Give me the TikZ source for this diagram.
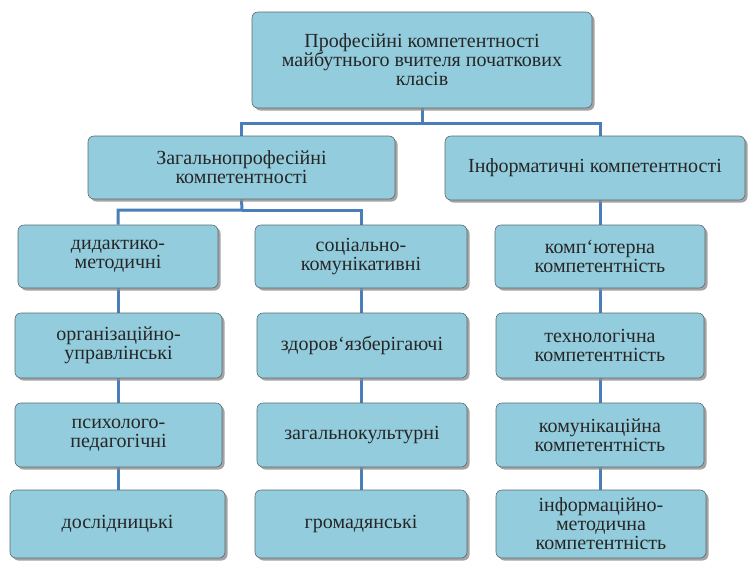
\documentclass[tikz,border=0pt]{standalone}
\usepackage{fontspec}
\setmainfont{Liberation Serif}
\usetikzlibrary{shadows,backgrounds}
\definecolor{boxfill}{HTML}{93CDDD}
\definecolor{boxline}{HTML}{5A6A70}
\definecolor{linkblue}{HTML}{4A7EBB}
\tikzset{
  boxstyle/.style={draw=boxline, line width=0.6pt, fill=boxfill, rounded corners=6pt,
    drop shadow={shadow xshift=2.5pt, shadow yshift=-2.5pt, fill=black!45, opacity=0.8},
    align=center, inner sep=0pt, font=\fontsize{20}{19}\selectfont, text=black!85},
  link/.style={draw=linkblue, line width=3pt}
}
\newcommand{\bx}[6]{% name, x1, y1, x2, y2, text
  \node[boxstyle, minimum width={#4-#2}, minimum height={#5-#3}] (#1) at ({(#2+#4)/2},{(#3+#5)/2}) {#6};}
\begin{document}
\begin{tikzpicture}[x=1pt,y=-1pt]
\useasboundingbox (0,0) rectangle (749,563);
\bx{top}{252}{12}{592}{108}{Професійні компетентності\\майбутнього вчителя початкових\\класів}
\bx{gen}{88}{136}{395}{199}{Загальнопрофесійні\\компетентності}
\bx{inf}{445}{136}{745}{200}{Інформатичні компетентності}
\bx{a1}{18}{225}{218}{288}{дидактико-\\методичні}
\bx{b1}{255}{225}{467}{288}{соціально-\\комунікативні}
\bx{c1}{495}{225}{705}{288}{комп`ютерна\\компетентність}
\bx{a2}{15}{313}{222}{378}{організаційно-\\управлінські}
\bx{b2}{257}{313}{467}{378}{здоров`язберігаючі}
\bx{c2}{496}{313}{704}{378}{технологічна\\компетентність}
\bx{a3}{15}{403}{222}{467}{психолого-\\педагогічні}
\bx{b3}{257}{403}{467}{467}{загальнокультурні}
\bx{c3}{496}{403}{704}{467}{комунікаційна\\компетентність}
\bx{a4}{10}{490}{225}{558}{дослідницькі}
\bx{b4}{255}{490}{467}{558}{громадянські}
\bx{c4}{496}{490}{706}{558}{інформаційно-\\методична\\компетентність}
\coordinate (j1) at (422,123);
\coordinate (j2) at (242,210);
\begin{scope}[on background layer]
\draw[link] (top.south) -- (j1) -| (gen.north);
\draw[link] (j1) -| (c1.north |- inf.north);
\draw[link] (gen.south) -- (j2) -| (a1.north);
\draw[link] (j2) -| (b1.north);
\draw[link] (c1.north |- inf.south) -- (c1.north);
\draw[link] (a1.south) -- (a1.south |- a2.north);
\draw[link] (a1.south |- a2.south) -- (a1.south |- a3.north);
\draw[link] (a1.south |- a3.south) -- (a1.south |- a4.north);
\draw[link] (b1.south) -- (b1.south |- b2.north);
\draw[link] (b1.south |- b2.south) -- (b1.south |- b3.north);
\draw[link] (b1.south |- b3.south) -- (b1.south |- b4.north);
\draw[link] (c1.south) -- (c1.south |- c2.north);
\draw[link] (c1.south |- c2.south) -- (c1.south |- c3.north);
\draw[link] (c1.south |- c3.south) -- (c1.south |- c4.north);
\end{scope}
\end{tikzpicture}
\end{document}
